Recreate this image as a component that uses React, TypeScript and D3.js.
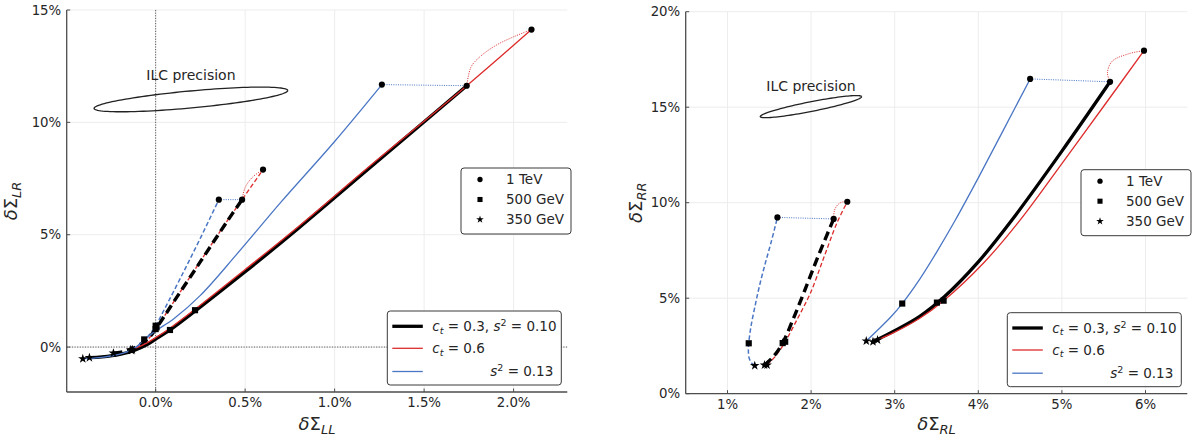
import React from 'react';
import * as d3 from 'd3';

type Pt = [number, number];

// ---------------- Left panel: δΣ_LL (x, %) vs δΣ_LR (y, %) ----------------
const leftXTicks = [0, 0.5, 1.0, 1.5, 2.0];
const leftYTicks = [0, 5, 10, 15];

const leftSolidBlack: Pt[] = [[-0.37, -0.47], [-0.3, -0.44], [-0.2, -0.33], [-0.12, -0.15], [-0.05, 0.1], [0, 0.35], [0.08, 0.76], [0.22, 1.6], [0.5, 3.35], [0.8, 5.3], [1.2, 8.0], [1.738, 11.63]];
const leftSolidRed: Pt[] = [[-0.13, -0.12], [-0.06, 0.14], [0, 0.42], [0.08, 0.84], [0.22, 1.68], [0.5, 3.45], [0.8, 5.38], [1.2, 8.08], [1.738, 11.63], [2.1, 14.13]];
const leftSolidBlue: Pt[] = [[-0.407, -0.52], [-0.3, -0.46], [-0.2, -0.32], [-0.12, -0.06], [-0.064, 0.32], [0, 0.72], [0.1, 1.25], [0.25, 2.3], [0.45, 4.1], [0.7, 6.45], [1.0, 9.15], [1.264, 11.68]];
const leftDashedBlack: Pt[] = [[-0.236, -0.27], [-0.16, -0.17], [-0.1, 0.05], [-0.04, 0.4], [0, 0.8], [0.1, 2.0], [0.25, 3.8], [0.4, 5.6], [0.483, 6.56]];
const leftDashedRed: Pt[] = [[-0.134, -0.15], [-0.08, 0.08], [-0.03, 0.45], [0.005, 0.85], [0.1, 2.0], [0.25, 3.82], [0.4, 5.62], [0.483, 6.56], [0.6, 7.9]];
const leftDashedBlue: Pt[] = [[-0.14, -0.12], [-0.09, 0.1], [-0.04, 0.5], [0, 0.95], [0.05, 1.7], [0.15, 3.25], [0.25, 4.85], [0.353, 6.56]];
const leftDotBlueA: Pt[] = [[1.264, 11.68], [1.738, 11.63]];
const leftDotRedA: Pt[] = [[1.738, 11.63], [1.762, 12.46], [1.809, 12.9], [1.9, 13.42], [1.995, 13.79], [2.1, 14.13]];
const leftDotBlueB: Pt[] = [[0.353, 6.56], [0.483, 6.56]];
const leftDotRedB: Pt[] = [[0.483, 6.56], [0.5, 7.1], [0.54, 7.55], [0.6, 7.9]];
const leftTeV: Pt[] = [[1.264, 11.68], [1.738, 11.63], [2.1, 14.13], [0.353, 6.56], [0.483, 6.56], [0.6, 7.9]];
const left500: Pt[] = [[-0.064, 0.34], [0.08, 0.76], [0.22, 1.64], [0, 0.8], [0.005, 0.88], [0, 0.95]];
const left350: Pt[] = [[-0.407, -0.52], [-0.37, -0.47], [-0.236, -0.27], [-0.134, -0.15], [-0.13, -0.12], [-0.14, -0.12]];
// ILC precision ellipse: centre, semi-axis vectors (data units)
const leftEllipse = { c: [0.197, 11.02] as Pt, a: [0.541, 0.4] as Pt, b: [0.0044, -0.376] as Pt };

// ---------------- Right panel: δΣ_RL (x, %) vs δΣ_RR (y, %) ----------------
const rightXTicks = [1, 2, 3, 4, 5, 6];
const rightYTicks = [0, 5, 10, 15, 20];

const rightSolidBlack: Pt[] = [[2.74, 2.72], [3.0, 3.3], [3.3, 4.05], [3.6, 5.1], [4.0, 6.9], [4.4, 9.08], [5.0, 12.7], [5.576, 16.33]];
const rightSolidRed: Pt[] = [[2.795, 2.81], [3.0, 3.22], [3.3, 3.95], [3.585, 4.87], [4.06, 6.83], [4.5, 9.09], [5.0, 12.05], [5.5, 15.05], [5.982, 17.96]];
const rightSolidBlue: Pt[] = [[2.66, 2.76], [2.8, 3.35], [2.95, 4.0], [3.09, 4.72], [3.3, 6.0], [3.5, 7.4], [3.724, 9.08], [4.0, 11.3], [4.3, 13.8], [4.62, 16.48]];
const rightDashedBlack: Pt[] = [[1.442, 1.5], [1.55, 1.95], [1.66, 2.65], [1.78, 3.85], [1.91, 5.25], [2.08, 7.15], [2.27, 9.15]];
const rightDashedRed: Pt[] = [[1.474, 1.5], [1.58, 2.0], [1.69, 2.72], [1.84, 3.95], [1.99, 5.25], [2.15, 7.1], [2.31, 8.95], [2.433, 10.05]];
const rightDashedBlue: Pt[] = [[1.326, 1.47], [1.29, 1.6], [1.26, 1.85], [1.25, 2.2], [1.254, 2.64], [1.28, 3.5], [1.33, 4.6], [1.38, 5.6], [1.45, 6.8], [1.52, 7.9], [1.597, 9.23]];
const rightDotBlueA: Pt[] = [[4.62, 16.48], [5.576, 16.33]];
const rightDotRedA: Pt[] = [[5.576, 16.33], [5.545, 16.8], [5.6, 17.4], [5.8, 17.8], [5.982, 17.96]];
const rightDotBlueB: Pt[] = [[1.597, 9.23], [2.27, 9.15]];
const rightDotRedB: Pt[] = [[2.27, 9.15], [2.28, 9.6], [2.32, 9.9], [2.37, 10.03], [2.433, 10.05]];
const rightTeV: Pt[] = [[1.597, 9.23], [2.27, 9.15], [2.433, 10.05], [4.62, 16.48], [5.576, 16.33], [5.982, 17.96]];
const right500: Pt[] = [[1.254, 2.64], [1.66, 2.65], [1.69, 2.72], [3.09, 4.72], [3.505, 4.77], [3.585, 4.87]];
const right350: Pt[] = [[1.326, 1.47], [1.442, 1.5], [1.474, 1.5], [2.66, 2.76], [2.74, 2.72], [2.795, 2.81]];
const rightEllipse = { c: [1.998, 15.03] as Pt, a: [0.606, 0.524] as Pt, b: [0.011, -0.247] as Pt };

const energyLabels = ['1 TeV', '500 GeV', '350 GeV'];

// ---------------- styles ----------------
const BLACK = '#000000';
const RED = '#dd2b2b';
const BLUE = '#4a76c4';
const TEXT = '#262626';
const SPINE = '#4d4d4d';
const GRID = '#ebebeb';
const FONT = '"DejaVu Sans", sans-serif';

type Curve = { pts: Pt[]; color: string; width: number; dash?: string };

const solidStyle = { black: { color: BLACK, width: 3.3 }, red: { color: RED, width: 1.3 }, blue: { color: BLUE, width: 1.3 } };
const dashStyle = { black: { color: BLACK, width: 3.4, dash: '9,5' }, red: { color: RED, width: 1.3, dash: '4.5,2.5' }, blue: { color: BLUE, width: 1.5, dash: '4.5,2.5' } };
const dotW = 1.0;
const dotDash = '1,1.3';

type PanelCfg = {
  x0: number; x1: number; y0: number; y1: number;
  xDomain: [number, number]; yDomain: [number, number];
  xTicks: number[]; yTicks: number[]; xFmt: (v: number) => string;
  curves: Curve[]; tev: Pt[]; g500: Pt[]; g350: Pt[];
  ellipse: { c: Pt; a: Pt; b: Pt }; ellipseLabelDy: number;
  zeroLines: boolean; xSub: string; ySub: string; yLabelX: number;
};

const leftCfg: PanelCfg = {
  x0: 66.7, x1: 567.3, y0: 10, y1: 392,
  xDomain: [-0.497, 2.3], yDomain: [-2, 15],
  xTicks: leftXTicks, yTicks: leftYTicks, xFmt: (v) => d3.format('.1f')(v) + '%',
  curves: [
    { pts: leftDashedRed, ...dashStyle.red },
    { pts: leftDashedBlue, ...dashStyle.blue },
    { pts: leftDashedBlack, ...dashStyle.black },
    { pts: leftSolidBlack, ...solidStyle.black },
    { pts: leftSolidRed, ...solidStyle.red },
    { pts: leftSolidBlue, ...solidStyle.blue },
    { pts: leftDotBlueA, color: BLUE, width: dotW, dash: dotDash },
    { pts: leftDotRedA, color: RED, width: dotW, dash: dotDash },
    { pts: leftDotBlueB, color: BLUE, width: dotW, dash: dotDash },
    { pts: leftDotRedB, color: RED, width: dotW, dash: dotDash },
  ],
  tev: leftTeV, g500: left500, g350: left350,
  ellipse: leftEllipse, ellipseLabelDy: -19,
  zeroLines: true, xSub: 'LL', ySub: 'LR', yLabelX: 17,
};

const rightCfg: PanelCfg = {
  x0: 685.7, x1: 1187.3, y0: 11.7, y1: 393.7,
  xDomain: [0.5, 6.5], yDomain: [0, 20],
  xTicks: rightXTicks, yTicks: rightYTicks, xFmt: (v) => d3.format('d')(v) + '%',
  curves: [
    { pts: rightDashedRed, ...dashStyle.red },
    { pts: rightDashedBlue, ...dashStyle.blue },
    { pts: rightDashedBlack, ...dashStyle.black },
    { pts: rightSolidBlack, ...solidStyle.black },
    { pts: rightSolidRed, ...solidStyle.red },
    { pts: rightSolidBlue, ...solidStyle.blue },
    { pts: rightDotBlueA, color: BLUE, width: dotW, dash: dotDash },
    { pts: rightDotRedA, color: RED, width: dotW, dash: dotDash },
    { pts: rightDotBlueB, color: BLUE, width: dotW, dash: dotDash },
    { pts: rightDotRedB, color: RED, width: dotW, dash: dotDash },
  ],
  tev: rightTeV, g500: right500, g350: right350,
  ellipse: rightEllipse, ellipseLabelDy: -16,
  zeroLines: false, xSub: 'RL', ySub: 'RR', yLabelX: 642,
};

const symCircle = d3.symbol(d3.symbolCircle, 30)();
const symSquare = d3.symbol(d3.symbolSquare, 38)();
const symStar = d3.symbol(d3.symbolStar, 28)();
const legCircle = d3.symbol(d3.symbolCircle, 22)();
const legSquare = d3.symbol(d3.symbolSquare, 26)();
const legStar = d3.symbol(d3.symbolStar, 18)();

function Panel({ cfg }: { cfg: PanelCfg }) {
  const x = d3.scaleLinear().domain(cfg.xDomain).range([cfg.x0, cfg.x1]);
  const y = d3.scaleLinear().domain(cfg.yDomain).range([cfg.y1, cfg.y0]);
  const line = d3.line<Pt>().x((d) => x(d[0])).y((d) => y(d[1])).curve(d3.curveCatmullRom.alpha(0.5));
  const ell = cfg.ellipse;
  const ellPts: Pt[] = d3.range(0, 121).map((i) => {
    const t = (i / 120) * Math.PI * 2;
    return [ell.c[0] + Math.cos(t) * ell.a[0] + Math.sin(t) * ell.b[0], ell.c[1] + Math.cos(t) * ell.a[1] + Math.sin(t) * ell.b[1]];
  });
  const ellLine = d3.line<Pt>().x((d) => x(d[0])).y((d) => y(d[1]));
  const cx = (cfg.x0 + cfg.x1) / 2;
  const cy = (cfg.y0 + cfg.y1) / 2;

  // legends
  const mlx = cfg.x1 + 3.7 - 110;
  const mly = cfg.y0 + 158;
  const llx = cfg.x1 - 6 - 174;
  const lly = cfg.y1 - 7 - 74;
  const legendSyms = [legCircle, legSquare, legStar];

  return (
    <g fontFamily={FONT}>
      {/* grid */}
      {cfg.xTicks.map((t) => (
        <line key={'gx' + t} x1={x(t)} x2={x(t)} y1={cfg.y0} y2={cfg.y1} stroke={GRID} strokeWidth={0.9} />
      ))}
      {cfg.yTicks.map((t) => (
        <line key={'gy' + t} x1={cfg.x0} x2={cfg.x1} y1={y(t)} y2={y(t)} stroke={GRID} strokeWidth={0.9} />
      ))}
      {cfg.zeroLines && (
        <g stroke="#5a5a5a" strokeWidth={1} strokeDasharray="1.2,1.4">
          <line x1={x(0)} x2={x(0)} y1={cfg.y0} y2={cfg.y1} />
          <line x1={cfg.x0} x2={cfg.x1} y1={y(0)} y2={y(0)} />
        </g>
      )}
      {/* ILC ellipse */}
      <path d={ellLine(ellPts) || ''} fill="none" stroke="#222" strokeWidth={1.3} />
      <text x={x(ell.c[0])} y={y(ell.c[1]) + cfg.ellipseLabelDy} textAnchor="middle" fontSize={14} fill={TEXT}>ILC precision</text>
      {/* curves */}
      {cfg.curves.map((c, i) => (
        <path key={'c' + i} d={line(c.pts) || ''} fill="none" stroke={c.color} strokeWidth={c.width} strokeDasharray={c.dash} strokeLinecap="butt" strokeLinejoin="round" />
      ))}
      {/* markers */}
      {cfg.tev.map((p, i) => <path key={'t' + i} d={symCircle || ''} transform={`translate(${x(p[0])},${y(p[1])})`} fill="#000" />)}
      {cfg.g500.map((p, i) => <path key={'s' + i} d={symSquare || ''} transform={`translate(${x(p[0])},${y(p[1])})`} fill="#000" />)}
      {cfg.g350.map((p, i) => <path key={'r' + i} d={symStar || ''} transform={`translate(${x(p[0])},${y(p[1])})`} fill="#000" />)}
      {/* spines */}
      <line x1={cfg.x0} x2={cfg.x0} y1={cfg.y0} y2={cfg.y1} stroke={SPINE} strokeWidth={1.3} />
      <line x1={cfg.x0} x2={cfg.x1} y1={cfg.y1} y2={cfg.y1} stroke={SPINE} strokeWidth={1.3} />
      {/* ticks + labels */}
      {cfg.yTicks.map((t) => (
        <g key={'yt' + t}>
          <line x1={cfg.x0} x2={cfg.x0 + 3.5} y1={y(t)} y2={y(t)} stroke={SPINE} strokeWidth={1} />
          <text x={cfg.x0 - 5.5} y={y(t)} dy="0.35em" textAnchor="end" fontSize={13.3} fill={TEXT}>{t + '%'}</text>
        </g>
      ))}
      {cfg.xTicks.map((t) => (
        <g key={'xt' + t}>
          <line x1={x(t)} x2={x(t)} y1={cfg.y1} y2={cfg.y1 - 3.5} stroke={SPINE} strokeWidth={1} />
          <text x={x(t)} y={cfg.y1 + 15} textAnchor="middle" fontSize={13.3} fill={TEXT}>{cfg.xFmt(t)}</text>
        </g>
      ))}
      {/* axis labels */}
      <text x={cx} y={430} textAnchor="middle" fontSize={18} fill={TEXT}>
        <tspan fontStyle="italic">δ</tspan><tspan>Σ</tspan><tspan fontStyle="italic" fontSize={13} dy={4}>{cfg.xSub}</tspan>
      </text>
      <text transform={`translate(${cfg.yLabelX},${cy}) rotate(-90)`} textAnchor="middle" fontSize={18} fill={TEXT}>
        <tspan fontStyle="italic">δ</tspan><tspan>Σ</tspan><tspan fontStyle="italic" fontSize={13} dy={4}>{cfg.ySub}</tspan>
      </text>
      {/* marker legend */}
      <rect x={mlx} y={mly} width={110} height={66} rx={3} fill="#fff" stroke="#3a3a3a" strokeWidth={1} />
      {energyLabels.map((lab, i) => (
        <g key={'ml' + i}>
          <path d={legendSyms[i] || ''} transform={`translate(${mlx + 19},${mly + 11.5 + i * 20})`} fill="#000" />
          <text x={mlx + 45} y={mly + 11.5 + i * 20} dy="0.36em" fontSize={13.5} fill={TEXT}>{lab}</text>
        </g>
      ))}
      {/* line legend */}
      <rect x={llx} y={lly} width={174} height={74} rx={3} fill="#fff" stroke="#3a3a3a" strokeWidth={1} />
      <line x1={llx + 5} x2={llx + 35.5} y1={lly + 15.3} y2={lly + 15.3} stroke={BLACK} strokeWidth={3.3} />
      <line x1={llx + 5} x2={llx + 35.5} y1={lly + 37.3} y2={lly + 37.3} stroke={RED} strokeWidth={1.3} />
      <line x1={llx + 5} x2={llx + 35.5} y1={lly + 60.5} y2={lly + 60.5} stroke={BLUE} strokeWidth={1.3} />
      <text x={llx + 45} y={lly + 15.3} dy="0.36em" fontSize={13.5} fill={TEXT}>
        <tspan fontStyle="italic">c</tspan><tspan fontStyle="italic" fontSize={9.5} dy={2.5}>t</tspan>
        <tspan dy={-2.5}>{' = 0.3, '}</tspan><tspan fontStyle="italic">s</tspan><tspan fontSize={9.5} dy={-5}>2</tspan>
        <tspan dy={5}>{' = 0.10'}</tspan>
      </text>
      <text x={llx + 45} y={lly + 37.3} dy="0.36em" fontSize={13.5} fill={TEXT}>
        <tspan fontStyle="italic">c</tspan><tspan fontStyle="italic" fontSize={9.5} dy={2.5}>t</tspan>
        <tspan dy={-2.5}>{' = 0.6'}</tspan>
      </text>
      <text x={llx + 166} y={lly + 60.5} dy="0.36em" textAnchor="end" fontSize={13.5} fill={TEXT}>
        <tspan fontStyle="italic">s</tspan><tspan fontSize={9.5} dy={-5}>2</tspan>
        <tspan dy={5}>{' = 0.13'}</tspan>
      </text>
    </g>
  );
}

export default function App() {
  return (
    <svg width={1199} height={441} style={{ position: 'absolute', left: 0, top: 0, display: 'block', background: '#fff' }}>
      <rect x={0} y={0} width={1199} height={441} fill="#fff" />
      <Panel cfg={leftCfg} />
      <Panel cfg={rightCfg} />
    </svg>
  );
}
